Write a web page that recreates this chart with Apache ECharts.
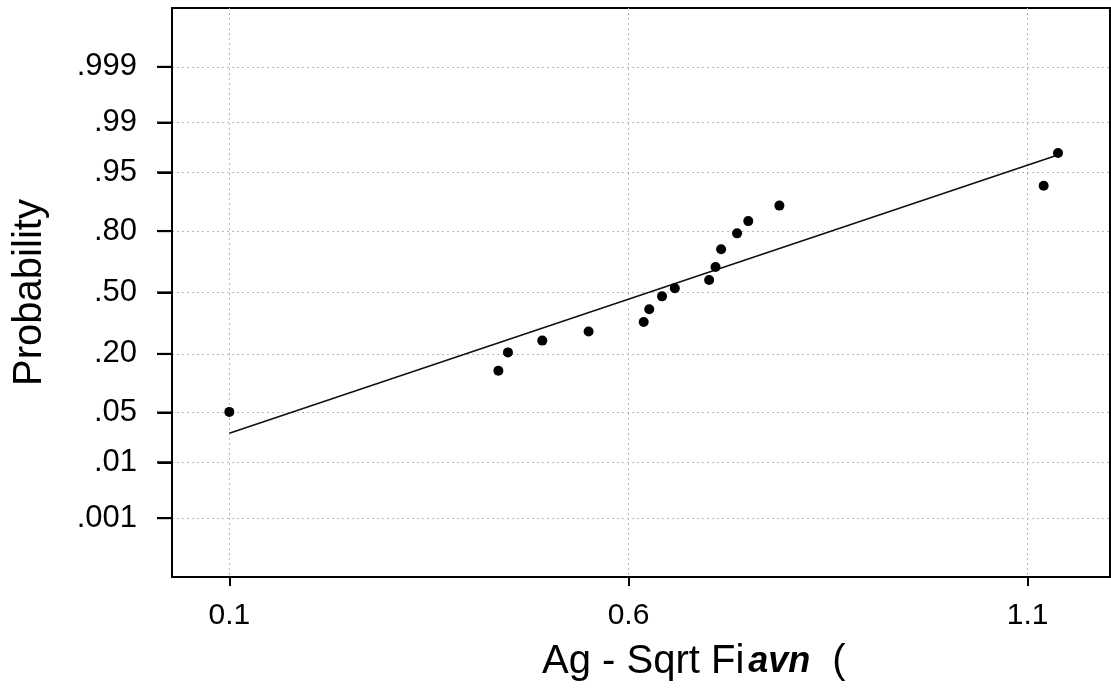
<!DOCTYPE html>
<html><head><meta charset="utf-8">
<script src="https://cdn.jsdelivr.net/npm/echarts@6/dist/echarts.min.js"></script>
<style>html,body{margin:0;padding:0;background:#fff}#c{width:1111px;height:694px}</style>
</head><body><div id="c"></div>
<script>
// Data
const xValues    = [0.100, 0.437, 0.449, 0.492, 0.550, 0.619, 0.626, 0.642, 0.658, 0.701, 0.709, 0.716, 0.736, 0.750, 0.789, 1.120, 1.138];
const probValues = [0.051, 0.142, 0.206, 0.255, 0.297, 0.343, 0.409, 0.479, 0.523, 0.568, 0.637, 0.723, 0.791, 0.836, 0.883, 0.928, 0.972];
const fitX    = [0.100, 1.134];
const fitProb = [0.0269, 0.9693];
const yTickProbs  = [0.001, 0.01, 0.05, 0.20, 0.50, 0.80, 0.95, 0.99, 0.999];
const yTickLabels = ['.001', '.01', '.05', '.20', '.50', '.80', '.95', '.99', '.999'];
const xTicks      = [0.1, 0.6, 1.1];
const xTickLabels = ['0.1', '0.6', '1.1'];
const xMin = 0.0282, xMax = 1.2031;
const zMin = -3.897, zMax = 3.897;

// normal-probability scale transform (inverse standard normal CDF, Acklam)
function probit(p) {
  const a = [-3.969683028665376e+01, 2.209460984245205e+02, -2.759285104469687e+02, 1.383577518672690e+02, -3.066479806614716e+01, 2.506628277459239e+00];
  const b = [-5.447609879822406e+01, 1.615858368580409e+02, -1.556989798598866e+02, 6.680131188771972e+01, -1.328068155288572e+01];
  const c = [-7.784894002430293e-03, -3.223964580411365e-01, -2.400758277161838e+00, -2.549732539343734e+00, 4.374664141464968e+00, 2.938163982698783e+00];
  const d = [7.784695709041462e-03, 3.224671290700398e-01, 2.445134137142996e+00, 3.754408661907416e+00];
  const plow = 0.02425, phigh = 1 - plow;
  let q, r;
  if (p < plow) {
    q = Math.sqrt(-2 * Math.log(p));
    return (((((c[0]*q+c[1])*q+c[2])*q+c[3])*q+c[4])*q+c[5]) / ((((d[0]*q+d[1])*q+d[2])*q+d[3])*q+1);
  } else if (p <= phigh) {
    q = p - 0.5; r = q*q;
    return (((((a[0]*r+a[1])*r+a[2])*r+a[3])*r+a[4])*r+a[5])*q / (((((b[0]*r+b[1])*r+b[2])*r+b[3])*r+b[4])*r+1);
  } else {
    q = Math.sqrt(-2 * Math.log(1 - p));
    return -(((((c[0]*q+c[1])*q+c[2])*q+c[3])*q+c[4])*q+c[5]) / ((((d[0]*q+d[1])*q+d[2])*q+d[3])*q+1);
  }
}
const yTickZ = yTickProbs.map(probit);
const points = xValues.map((x, i) => [x, probit(probValues[i])]);
const fitLine = fitX.map((x, i) => [x, probit(fitProb[i])]);

function yLabel(v) {
  let best = 0, bd = Infinity;
  yTickZ.forEach((z, i) => { const dd = Math.abs(z - v); if (dd < bd) { bd = dd; best = i; } });
  return yTickLabels[best];
}
function xLabel(v) {
  let best = 0, bd = Infinity;
  xTicks.forEach((t, i) => { const dd = Math.abs(t - v); if (dd < bd) { bd = dd; best = i; } });
  return xTickLabels[best];
}

const FONT = '"Liberation Sans", Arial, Helvetica, sans-serif';
const gridLine = { show: true, lineStyle: { color: '#b8b8b8', width: 1, type: [2, 3] } };

const chart = echarts.init(document.getElementById('c'), null, { renderer: 'canvas' });
chart.setOption({
  animation: false,
  backgroundColor: '#fff',
  grid: { left: 172, right: 1, top: 8, bottom: 117, show: true, borderColor: '#000', borderWidth: 2, backgroundColor: 'transparent' },
  xAxis: {
    type: 'value', min: xMin, max: xMax,
    axisLine: { show: true, onZero: false, lineStyle: { color: '#000', width: 2 } },
    axisTick: { show: true, length: 9, lineStyle: { color: '#000', width: 2 }, customValues: xTicks },
    axisLabel: { customValues: xTicks, formatter: xLabel, color: '#000', fontSize: 30, fontFamily: FONT, margin: 24 },
    splitLine: gridLine
  },
  yAxis: {
    type: 'value', min: zMin, max: zMax,
    name: 'Probability', nameLocation: 'middle', nameGap: 122, nameRotate: 90,
    nameTextStyle: { color: '#000', fontSize: 40, fontFamily: FONT },
    axisLine: { show: true, onZero: false, lineStyle: { color: '#000', width: 2 } },
    axisTick: { show: true, length: 14, lineStyle: { color: '#000', width: 2 }, customValues: yTickZ },
    axisLabel: { customValues: yTickZ, formatter: yLabel, color: '#000', fontSize: 31, fontFamily: FONT, margin: 35 },
    splitLine: gridLine
  },
  graphic: [{
    type: 'text', left: 542, top: 642,
    style: {
      text: '{a|Ag - Sqrt Fi}{b|avn}{a|(}',
      rich: {
        a: { fontSize: 40, fontFamily: FONT, fill: '#000' },
        b: { fontSize: 36, fontFamily: FONT, fontStyle: 'italic', fontWeight: 'bold', fill: '#000', padding: [0, 22, 0, 4] }
      }
    }
  }],
  series: [
    {
      // outward tick marks on the y axis, placed through the axes' scales
      type: 'scatter', data: yTickZ.map(z => [xMin, z]), symbol: 'rect',
      symbolSize: [15, 2.2], symbolOffset: [-7.5, 0], clip: false, silent: true, z: 6,
      itemStyle: { color: '#000', opacity: 1 }
    },
    {
      type: 'line', data: fitLine, showSymbol: false, symbol: 'none',
      lineStyle: { color: '#111', width: 1.7 }, silent: true, z: 2
    },
    {
      type: 'scatter', data: points, symbol: 'circle', symbolSize: 10,
      itemStyle: { color: '#000', opacity: 1 }, z: 3
    }
  ]
});
</script>
</body></html>
